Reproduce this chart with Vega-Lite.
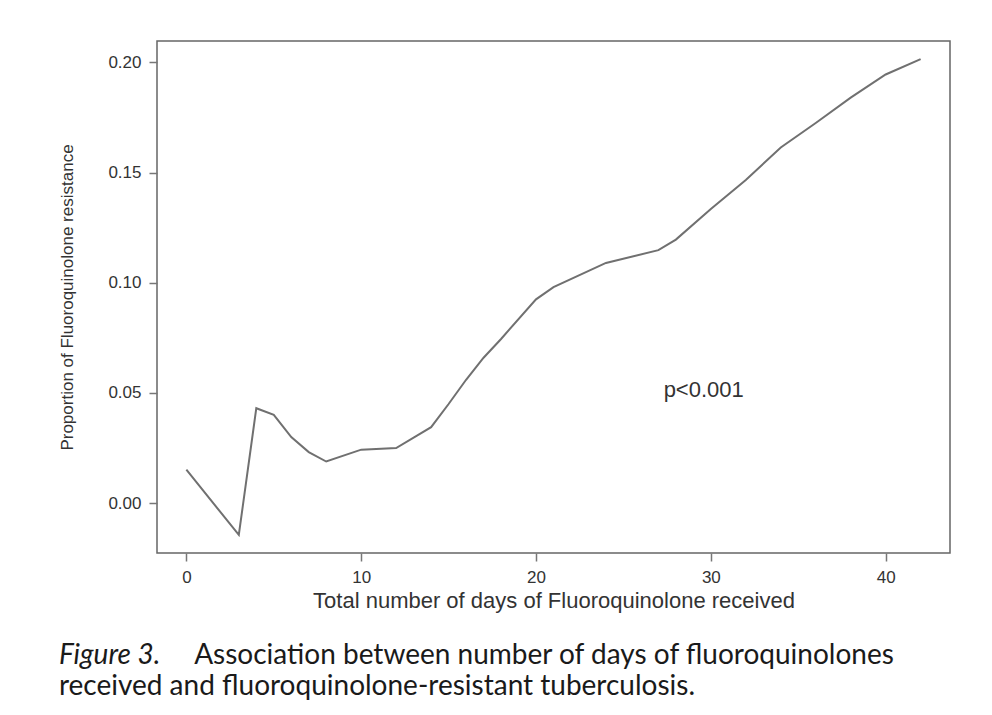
{
  "$schema": "https://vega.github.io/schema/vega-lite/v6.json",
  "autosize": {"type": "none"},
  "width": 793,
  "height": 512,
  "padding": {"left": 157, "top": 41, "right": 42, "bottom": 162},
  "background": "white",
  "title": {
    "text": "Figure 3.",
    "subtitle": ["\u200b\u00a0\u00a0\u00a0\u00a0\u00a0\u00a0\u00a0\u00a0\u00a0\u00a0\u00a0\u00a0\u00a0\u00a0\u00a0\u00a0\u00a0\u00a0\u00a0Association between number of days of fluoroquinolones", "received and fluoroquinolone-resistant tuberculosis."],
    "orient": "bottom",
    "anchor": "start",
    "dx": 0,
    "offset": 31,
    "font": "Lato",
    "fontSize": 28,
    "fontStyle": "italic",
    "fontWeight": "normal",
    "color": "#1a1a1a",
    "subtitleFont": "Lato",
    "subtitleFontSize": 28,
    "subtitleColor": "#1a1a1a",
    "subtitlePadding": -28,
    "subtitleLineHeight": 31
  },
  "config": {
    "view": {"stroke": "#666666", "strokeWidth": 1.5},
    "axis": {
      "labelFont": "Liberation Sans",
      "titleFont": "Liberation Sans",
      "labelColor": "#333333",
      "titleColor": "#333333",
      "labelFontSize": 17,
      "titleFontSize": 22,
      "titleFontWeight": "normal",
      "grid": false,
      "domain": false,
      "tickColor": "#777777",
      "tickWidth": 1.5,
      "tickSize": 8
    }
  },
  "layer": [
    {
      "data": {"values": [
        {"day": 0, "value": 0.0152},
        {"day": 3, "value": -0.0144},
        {"day": 4, "value": 0.0431},
        {"day": 5, "value": 0.0401},
        {"day": 6, "value": 0.0300},
        {"day": 7, "value": 0.0232},
        {"day": 8, "value": 0.0189},
        {"day": 10, "value": 0.0243},
        {"day": 12, "value": 0.0250},
        {"day": 14, "value": 0.0345},
        {"day": 15, "value": 0.0450},
        {"day": 16, "value": 0.0560},
        {"day": 17, "value": 0.0660},
        {"day": 18, "value": 0.0745},
        {"day": 20, "value": 0.0925},
        {"day": 21, "value": 0.0980},
        {"day": 24, "value": 0.1090},
        {"day": 27, "value": 0.1148},
        {"day": 28, "value": 0.1196},
        {"day": 30, "value": 0.1335},
        {"day": 32, "value": 0.1466},
        {"day": 34, "value": 0.1614},
        {"day": 36, "value": 0.1725},
        {"day": 38, "value": 0.1840},
        {"day": 40, "value": 0.1945},
        {"day": 42, "value": 0.2015}
      ]},
      "mark": {"type": "line", "color": "#707070", "strokeWidth": 2},
      "encoding": {
        "x": {
          "field": "day", "type": "quantitative",
          "scale": {"domain": [-1.68, 43.68], "nice": false, "zero": false},
          "axis": {"values": [0, 10, 20, 30, 40], "title": "Total number of days of Fluoroquinolone received", "labelPadding": 8, "titlePadding": 5}
        },
        "y": {
          "field": "value", "type": "quantitative",
          "scale": {"domain": [-0.0226, 0.2097], "nice": false, "zero": false},
          "axis": {"values": [0, 0.05, 0.1, 0.15, 0.2], "format": ".2f", "title": "Proportion of Fluoroquinolone resistance", "labelPadding": 8, "titlePadding": 31, "titleFontSize": 17}
        }
      }
    },
    {
      "data": {"values": [{"day": 27.3, "value": 0.0512, "label": "p<0.001"}]},
      "mark": {"type": "text", "align": "left", "baseline": "middle", "font": "Liberation Sans", "fontSize": 22, "color": "#333333"},
      "encoding": {
        "x": {"field": "day", "type": "quantitative"},
        "y": {"field": "value", "type": "quantitative"},
        "text": {"field": "label"}
      }
    }
  ]
}
